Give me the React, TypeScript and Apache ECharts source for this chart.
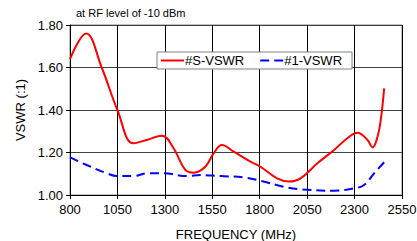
import React, { useEffect, useRef } from "react";
import * as echarts from "echarts";

const freqS = [800, 885, 967, 1050, 1134, 1205, 1285, 1346, 1408, 1452, 1513, 1557, 1601, 1663, 1751, 1804, 1892, 1954, 2015, 2104, 2192, 2262, 2315, 2368, 2395, 2421, 2438, 2456];
const vswrS = [1.64, 1.76, 1.6, 1.4, 1.243, 1.259, 1.279, 1.22, 1.118, 1.105, 1.133, 1.196, 1.235, 1.204, 1.157, 1.133, 1.078, 1.063, 1.078, 1.149, 1.212, 1.267, 1.293, 1.259, 1.224, 1.274, 1.353, 1.502];
const freq1 = [800, 888, 994, 1047, 1135, 1205, 1293, 1417, 1487, 1593, 1716, 1804, 1927, 2015, 2192, 2297, 2350, 2403, 2456];
const vswr1 = [1.177, 1.141, 1.102, 1.089, 1.089, 1.102, 1.102, 1.089, 1.094, 1.089, 1.083, 1.067, 1.039, 1.027, 1.02, 1.031, 1.047, 1.102, 1.154];
const seriesNames = ["#S-VSWR", "#1-VSWR"];

const FONT = "'Liberation Sans', Arial, sans-serif";

export default function App() {
  const ref = useRef<HTMLDivElement>(null);
  useEffect(() => {
    if (!ref.current) return;
    const chart = echarts.init(ref.current, null, { renderer: "svg" });
    chart.setOption({
      animation: false,
      backgroundColor: "#ffffff",
      textStyle: { fontFamily: FONT },
      title: {
        text: "at RF level of -10 dBm",
        left: 76,
        top: 7,
        padding: 0,
        textStyle: { fontSize: 11, fontWeight: "normal", color: "#000", fontFamily: FONT },
      },
      legend: {
        left: 157,
        top: 52,
        orient: "horizontal",
        backgroundColor: "#fff",
        borderColor: "#808080",
        borderWidth: 1,
        borderRadius: 0,
        padding: [2, 10, 2, 3],
        itemWidth: 23,
        itemHeight: 10,
        itemGap: 15,
        itemStyle: { opacity: 0 },
        textStyle: { fontSize: 13, color: "#000", fontFamily: FONT, padding: [0, 0, 0, -4] },
        data: seriesNames,
      },
      grid: {
        left: 70,
        right: 15,
        top: 25,
        bottom: 46,
        show: true,
        borderColor: "#808080",
        borderWidth: 1,
        containLabel: false,
        outerBoundsMode: "none",
      },
      xAxis: {
        type: "value",
        min: 800,
        max: 2550,
        interval: 250,
        name: "FREQUENCY (MHz)",
        nameLocation: "middle",
        nameGap: 33,
        nameTextStyle: { fontSize: 13, color: "#000", fontFamily: FONT },
        axisLine: { show: true, lineStyle: { color: "#000", width: 1 } },
        axisTick: { show: true, inside: false, length: 4, lineStyle: { color: "#000" } },
        axisLabel: { fontSize: 13, color: "#000", margin: 8, fontFamily: FONT, formatter: (v: number) => String(v) },
        splitLine: { show: true, lineStyle: { color: "#000", width: 1 } },
      },
      yAxis: {
        type: "value",
        min: 1.0,
        max: 1.8,
        interval: 0.2,
        name: "VSWR (:1)",
        nameLocation: "middle",
        nameGap: 43,
        nameTextStyle: { fontSize: 13, color: "#000", fontFamily: FONT },
        axisLine: { show: true, lineStyle: { color: "#000", width: 1 } },
        axisTick: { show: true, inside: false, length: 4, lineStyle: { color: "#000" } },
        axisLabel: { fontSize: 13, color: "#000", margin: 7, fontFamily: FONT, formatter: (v: number) => v.toFixed(2) },
        splitLine: { show: true, lineStyle: { color: "#404040", width: 1 } },
      },
      series: [
        {
          name: seriesNames[0],
          type: "line",
          data: freqS.map((f, i) => [f, vswrS[i]]),
          smooth: 0.4,
          symbol: "none",
          lineStyle: { color: "#ff0000", width: 2 },
          itemStyle: { color: "#ff0000" },
        },
        {
          name: seriesNames[1],
          type: "line",
          data: freq1.map((f, i) => [f, vswr1[i]]),
          smooth: 0.4,
          symbol: "none",
          lineStyle: { color: "#0000ff", width: 2, type: [9, 5] },
          itemStyle: { color: "#0000ff" },
        },
      ],
    });
    return () => chart.dispose();
  }, []);
  return <div ref={ref} style={{ position: "fixed", left: 0, top: 0, width: 417, height: 241 }} />;
}
